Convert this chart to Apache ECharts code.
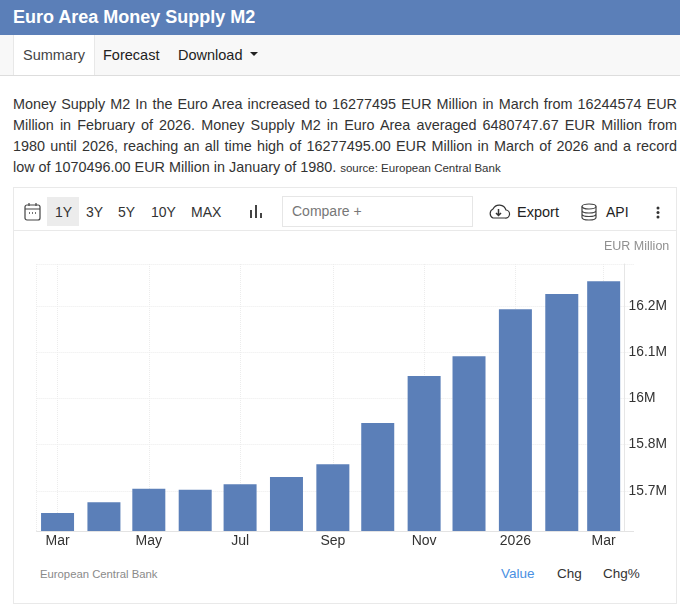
<!DOCTYPE html>
<html><head><meta charset="utf-8">
<script src="https://cdn.jsdelivr.net/npm/echarts@6/dist/echarts.min.js"></script>
<style>
html,body{margin:0;padding:0;background:#fff;width:680px;height:606px;overflow:hidden;font-family:"Liberation Sans",Arial,sans-serif;color:#333}
.a{position:absolute;white-space:nowrap}
#hdr{left:0;top:0;width:680px;height:35px;background:#5b7fb8;color:#fff;font-weight:bold;font-size:18px;line-height:35px;text-indent:13px}
#tabs{left:0;top:35px;width:680px;height:40px;background:#f8f8f8;border-bottom:1px solid #ddd}
#sum{left:13px;top:35px;width:80px;height:40px;background:#fff;border-left:1px solid #e8e8e8;border-right:1px solid #e8e8e8;text-align:center;font-size:14.5px;line-height:41px;color:#444}
.tab{font-size:14.5px;line-height:41px;top:35px;color:#222}
#para{position:absolute;left:13px;top:94px;width:664px;font-size:14.4px;line-height:21px;text-align:justify;color:#333}
#para small{font-size:11.5px}
#card{left:13px;top:187px;width:662px;height:415px;border:1px solid #e9e9e9;box-sizing:content-box}
#bar{left:14px;top:230px;width:662px;height:1px;background:#e9e9e9}
#one{left:47px;top:197px;width:32px;height:29px;background:#ececec}
.b{font-size:14px;top:204px;color:#333;line-height:17px}
#cmp{left:282px;top:196px;width:189px;height:29px;border:1px solid #e6e6e6;font-size:14px;line-height:28px;color:#777;text-indent:9px}
#chart{position:absolute;left:0;top:231px;width:680px;height:330px}
.f{font-size:13.5px;top:566px;line-height:16px}
svg{position:absolute;overflow:visible}
</style></head><body>
<div class="a" id="hdr">Euro Area Money Supply M2</div>
<div class="a" id="tabs"></div><div class="a" id="sum">Summary</div>
<div class="a tab" style="left:103px">Forecast</div>
<div class="a tab" style="left:178px">Download</div>
<svg style="left:250px;top:52px" width="9" height="5"><path d="M0 0H8L4 4Z" fill="#222"/></svg>
<div id="para">Money Supply M2 In the Euro Area increased to 16277495 EUR Million in March from 16244574 EUR Million in February of 2026. Money Supply M2 in Euro Area averaged 6480747.67 EUR Million from 1980 until 2026, reaching an all time high of 16277495.00 EUR Million in March of 2026 and a record low of 1070496.00 EUR Million in January of 1980. <small>source: European Central Bank</small></div>
<div class="a" id="card"></div><div class="a" id="bar"></div><div class="a" id="one"></div>
<svg style="left:24px;top:202px" width="17" height="19" fill="none" stroke="#444" stroke-width="1.2"><rect x="1" y="3" width="15" height="15" rx="2"/><path d="M1 7H16M5 1V4M12 1V4"/><path d="M5 11H6M8 11H9M11 11H12" stroke-width="1.4"/></svg>
<div class="a b" style="left:55px">1Y</div><div class="a b" style="left:86px">3Y</div><div class="a b" style="left:118px">5Y</div><div class="a b" style="left:151px">10Y</div><div class="a b" style="left:191px">MAX</div>
<svg style="left:249px;top:204px" width="14" height="15" stroke="#444" stroke-width="2"><path d="M2 6V14M7 1V14M12 9V14"/></svg>
<div class="a" id="cmp">Compare +</div>
<svg style="left:487px;top:203px" width="23" height="17" fill="none" stroke="#333" stroke-width="1.2"><path d="M6 15H18A4 4 0 0 0 19 7A7 7 0 0 0 6 6A5 5 0 0 0 6 15Z"/><path d="M11.500 6V12M9 10L11.500 12.500L14 10" stroke-width="1.5"/></svg>
<div class="a b" style="left:517px;color:#222;font-size:14.5px">Export</div>
<svg style="left:581px;top:203px" width="16" height="18" fill="none" stroke="#444" stroke-width="1.2"><ellipse cx="8" cy="3.500" rx="7" ry="2.500"/><path d="M1 3.500V14.500C1 16 4 17 8 17S15 16 15 14.500V3.500M1 7.500C1 9 4 10 8 10S15 9 15 7.500M1 11C1 12.500 4 13.500 8 13.500S15 12.500 15 11"/></svg>
<div class="a b" style="left:606px;color:#222">API</div>
<svg style="left:656px;top:206px" width="4" height="13" fill="#333"><circle cx="2" cy="2" r="1.500"/><circle cx="2" cy="6.500" r="1.500"/><circle cx="2" cy="11" r="1.500"/></svg>
<div id="chart"></div>
<div class="a" style="left:604px;top:239px;font-size:12.5px;line-height:15px;color:#909090">EUR Million</div>
<div class="a" style="left:40px;top:567px;font-size:11.300px;line-height:14px;color:#8a8a8a">European Central Bank</div>
<div class="a f" style="left:501px;color:#4a90e2">Value</div>
<div class="a f" style="left:557px;color:#333">Chg</div>
<div class="a f" style="left:603px;color:#333">Chg%</div>
<script>
const dates=['2025-03-01','2025-04-01','2025-05-01','2025-06-01','2025-07-01','2025-08-01','2025-09-01','2025-10-01','2025-11-01','2025-12-01','2026-01-01','2026-02-01','2026-03-01'];
const values=[15675700,15703500,15738800,15736200,15750200,15769200,15802200,15909400,16031500,16082700,16204800,16244574,16277495];
const xTickDates=['2025-03-01','2025-05-01','2025-07-01','2025-09-01','2025-11-01','2026-01-01','2026-03-01'];
const xTickLabels=['Mar','May','Jul','Sep','Nov','2026','Mar'];
const yTickValues=[15733300,15853300,15973300,16093300,16213300];
const yTickLabels=['15.7M','15.8M','16M','16.1M','16.2M'];
const yMin=15629000,yMax=16322400;
const ts=d=>Date.parse(d+'T00:00:00Z');
const xMin=ts('2025-02-15'),xMax=ts('2026-03-21');
const xTicks=xTickDates.map(ts);
const dotted={show:true,lineStyle:{color:'#ececec',type:'dotted',width:1}};
const chart=echarts.init(document.getElementById('chart'),null,{renderer:'canvas'});
chart.setOption({
 animation:false,
 grid:{left:36.6,top:33,right:46.4,bottom:30},
 xAxis:{type:'value',min:xMin,max:xMax,scale:true,
  axisLine:{show:true,onZero:false,lineStyle:{color:'#e3e3e3'}},
  axisTick:{show:false,customValues:[xMin].concat(xTicks)},
  splitLine:dotted,
  axisLabel:{customValues:xTicks,margin:3,fontFamily:'Liberation Sans',fontSize:14,color:'#333',hideOverlap:false,
   formatter:v=>{const i=xTicks.indexOf(+v);return i<0?'':xTickLabels[i];}}},
 yAxis:{type:'value',position:'right',offset:-9,min:yMin,max:yMax,scale:true,
  axisLine:{show:true,onZero:false,lineStyle:{color:'#e6e6e6'}},
  axisTick:{show:false,customValues:yTickValues.concat([yMax])},
  splitLine:dotted,
  axisLabel:{customValues:yTickValues,margin:4,padding:[0,0,2,0],fontFamily:'Liberation Sans',fontSize:13.8,color:'#333',
   formatter:v=>{const i=yTickValues.indexOf(+v);return i<0?'':yTickLabels[i];}}},
 series:[{type:'bar',barWidth:33,itemStyle:{color:'#5b7fb8'},
  data:dates.map((d,i)=>[ts(d),values[i]])}]
});
</script>
</body></html>
